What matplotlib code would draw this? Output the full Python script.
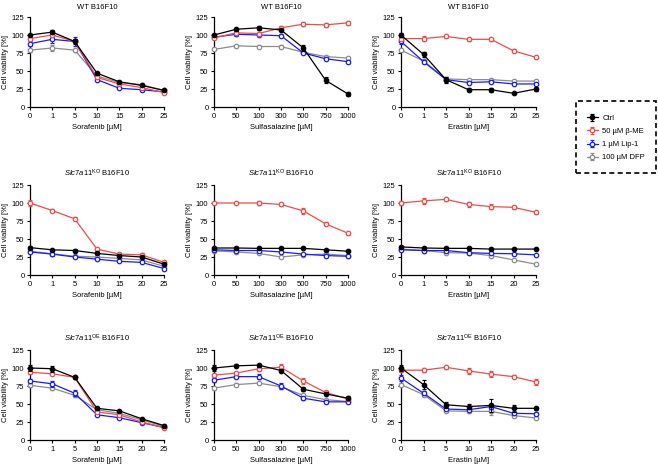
import matplotlib

matplotlib.use("Agg")

import matplotlib.pyplot as plt  # noqa: E402
from matplotlib.patches import Rectangle  # noqa: E402

plt.rcParams["font.family"] = ["Liberation Sans", "DejaVu Sans"]
plt.rcParams["mathtext.fontset"] = "custom"
plt.rcParams["mathtext.rm"] = "Liberation Sans"
plt.rcParams["mathtext.it"] = "Liberation Sans:italic"

# ---------------------------------------------------------------------------
# data
# ---------------------------------------------------------------------------
treatments = ["Ctrl", "50 µM β-ME", "1 µM Lip-1", "100 µM DFP"]
colors = ["#000000", "#f24a4a", "#1a1aff", "#8c8c8c"]

sorafenib_doses = ["0", "1", "5", "10", "15", "20", "25"]
sulfasalazine_doses = ["0", "50", "100", "300", "500", "750", "1000"]
erastin_doses = ["0", "1", "5", "10", "15", "20", "25"]

row_titles = [
    "WT B16F10",
    r"$\mathit{Slc7a11}^{\mathrm{KO}}$ B16F10",
    r"$\mathit{Slc7a11}^{\mathrm{OE}}$ B16F10",
]

# WT
wt_sorafenib = [
    [100, 104, 91, 47, 35, 30, 23],
    [95, 100, 91, 41, 32, 27, 20],
    [88, 94, 91, 38, 26, 24, 21],
    [79, 82, 79, 43, 34, 31, 23],
]
wt_sulfasalazine = [
    [100, 108, 110, 107, 82, 37, 18],
    [96, 103, 102, 110, 115, 114, 117],
    [97, 101, 100, 99, 75, 67, 63],
    [80, 85, 84, 84, 76, 70, 68],
]
wt_erastin = [
    [100, 73, 38, 24, 24, 19, 25],
    [95, 95, 98, 94, 94, 78, 69],
    [91, 63, 38, 34, 35, 32, 32],
    [79, 64, 39, 38, 38, 36, 36],
]
wt_sorafenib_err = [
    [2, 3, 3, 2, 1.5, 1.5, 1],
    [2, 2, 2, 2, 1.5, 1.5, 1],
    [3, 5, 6, 2, 1.5, 1.5, 1],
    [2, 4, 2, 2, 1.5, 1.5, 1],
]
wt_sulfasalazine_err = [
    [2, 2, 3, 2, 4, 4, 3],
    [2, 2, 2, 2, 3, 3, 3],
    [2, 2, 2, 2, 2, 2, 2],
    [1.5, 1.5, 1.5, 1.5, 1.5, 1.5, 1.5],
]
wt_erastin_err = [
    [3, 3, 4, 2, 3, 1.5, 3],
    [2, 3, 2, 2, 2, 2, 1.5],
    [3, 2, 2, 2, 2, 2, 2],
    [2, 2, 2, 1.5, 1.5, 1.5, 1.5],
]

# Slc7a11 KO
ko_sorafenib = [
    [38, 35, 34, 30, 27, 25, 15],
    [100, 89.5, 78, 36, 29, 28, 17.5],
    [32, 29, 25, 22, 19, 17.5, 9],
    [33, 29.5, 26, 25, 23, 21, 12],
]
ko_sulfasalazine = [
    [37.5, 37.5, 37, 37, 37, 35, 33],
    [100, 100, 100, 98, 89, 71, 58],
    [35, 34, 34, 32, 29, 27, 26],
    [33.5, 32, 30, 25, 28, 29, 27],
]
ko_erastin = [
    [39, 37.5, 37, 37, 36, 36, 36],
    [100, 103, 105, 98, 95, 94, 87],
    [35, 34, 34, 31, 30, 29.5, 28],
    [36, 34, 31, 30.5, 27, 21, 15],
]
ko_sorafenib_err = [
    [2, 1.5, 1.5, 1.5, 1.5, 1.5, 1.5],
    [4, 2, 2, 2, 2, 2, 2],
    [2, 2, 2, 1.5, 1.5, 1.5, 1.5],
    [1.5, 1.5, 1.5, 1.5, 1.5, 1.5, 1.5],
]
ko_sulfasalazine_err = [
    [1.5, 1.5, 1.5, 1.5, 1.5, 1.5, 1.5],
    [2, 2, 3, 2, 4, 2, 2],
    [2, 1.5, 1.5, 1.5, 1.5, 1.5, 1.5],
    [1.5, 1.5, 1.5, 1.5, 1.5, 1.5, 1.5],
]
ko_erastin_err = [
    [1.5, 1.5, 1.5, 2, 1.5, 1.5, 1.5],
    [3, 4, 2, 4, 4, 2, 2],
    [1.5, 1.5, 1.5, 1.5, 1.5, 1.5, 1.5],
    [1.5, 1.5, 1.5, 1.5, 1.5, 1.5, 1.5],
]

# Slc7a11 OE
oe_sorafenib = [
    [100, 99, 87, 44, 40.5, 29.5, 20],
    [94, 92, 87, 39, 35, 25, 17],
    [82, 78, 65, 35, 31, 24, 17.5],
    [76, 72, 62, 42, 37, 28, 19],
]
oe_sulfasalazine = [
    [100, 103, 104, 96.5, 70.5, 64, 58],
    [90, 93, 99, 101, 82, 66, 57],
    [83, 88, 88, 75, 58, 53, 53],
    [72, 77, 79, 74, 62, 56, 53.5],
]
oe_erastin = [
    [100, 77, 49, 46.5, 48, 44, 44],
    [97, 97, 101, 96, 91.5, 88, 80.5],
    [86, 65, 43, 42, 46.5, 37, 36.5],
    [77, 63, 40.5, 39.7, 39.7, 34, 30.5],
]
oe_sorafenib_err = [
    [4, 4, 2, 2, 1.5, 1.5, 1.5],
    [2, 2, 2, 2, 1.5, 1.5, 1.5],
    [3, 4, 4, 2, 1.5, 1.5, 1.5],
    [2, 2, 2, 1.5, 1.5, 1.5, 1.5],
]
oe_sulfasalazine_err = [
    [4, 2, 2, 2, 3, 2, 3],
    [2, 2, 3, 5, 4, 2, 2],
    [3, 2, 3, 4, 2, 2, 2],
    [2, 1.5, 1.5, 1.5, 1.5, 1.5, 1.5],
]
oe_erastin_err = [
    [4, 6, 4, 4, 9, 5, 2],
    [2, 3, 2, 4, 4, 2, 4],
    [4, 3, 2, 2, 3, 2, 2],
    [2, 2, 2, 2, 5, 2, 2],
]

panels = [
    [(wt_sorafenib, wt_sorafenib_err, sorafenib_doses, "Sorafenib [µM]"),
     (wt_sulfasalazine, wt_sulfasalazine_err, sulfasalazine_doses, "Sulfasalazine [µM]"),
     (wt_erastin, wt_erastin_err, erastin_doses, "Erastin [µM]")],
    [(ko_sorafenib, ko_sorafenib_err, sorafenib_doses, "Sorafenib [µM]"),
     (ko_sulfasalazine, ko_sulfasalazine_err, sulfasalazine_doses, "Sulfasalazine [µM]"),
     (ko_erastin, ko_erastin_err, erastin_doses, "Erastin [µM]")],
    [(oe_sorafenib, oe_sorafenib_err, sorafenib_doses, "Sorafenib [µM]"),
     (oe_sulfasalazine, oe_sulfasalazine_err, sulfasalazine_doses, "Sulfasalazine [µM]"),
     (oe_erastin, oe_erastin_err, erastin_doses, "Erastin [µM]")],
]

# ---------------------------------------------------------------------------
# layout
# ---------------------------------------------------------------------------
W, H = 658, 465
fig = plt.figure(figsize=(W / 100, H / 100), dpi=100)

col_px = [(30, 164), (214, 348), (401, 536)]
row_px = [(17, 107), (185, 275), (350, 440)]

handles = []
for r, row in enumerate(panels):
    for c, (series, errs, doses, xlabel) in enumerate(row):
        x0, x1 = col_px[c]
        y0, y1 = row_px[r]
        ax = fig.add_axes([x0 / W, 1 - y1 / H, (x1 - x0) / W, (y1 - y0) / H])
        xs = list(range(len(doses)))
        for i, (vals, err) in enumerate(zip(series, errs)):
            filled = i == 0
            h = ax.errorbar(
                xs, vals, yerr=err, color=colors[i], lw=0.9,
                marker="o", ms=3.2, mew=0.9,
                mfc=colors[i] if filled else "white", mec=colors[i],
                capsize=1.5, elinewidth=0.7, capthick=0.7,
                clip_on=False, zorder=3 + (3 - i), label=treatments[i],
            )
            if r == 0 and c == 0:
                handles.append(h)
        ax.set_xlim(0, len(doses) - 1)
        ax.set_ylim(0, 125)
        ax.set_yticks([0, 25, 50, 75, 100, 125])
        ax.set_xticks(xs)
        ax.set_xticklabels(doses)
        ax.tick_params(labelsize=5.5, length=2.5, width=0.8, pad=1.5)
        for s in ("top", "right"):
            ax.spines[s].set_visible(False)
        for s in ("left", "bottom"):
            ax.spines[s].set_linewidth(0.9)
        ax.set_ylabel("Cell viability [%]", fontsize=5.5, labelpad=2)
        ax.set_xlabel(xlabel, fontsize=5.5, labelpad=3)
        ax.set_title(row_titles[r], fontsize=5.5, pad=6)

# legend inside a dashed box
fig.patches.append(Rectangle(
    (576 / W, 1 - 173 / H), 80 / W, 72 / H, transform=fig.transFigure,
    fill=False, edgecolor="black", linewidth=1.2, linestyle=(0, (3, 2)),
))
fig.legend(
    handles, treatments, loc="center",
    bbox_to_anchor=(616 / W, 1 - 138 / H), fontsize=5.5,
    frameon=False, borderpad=0.2, handlelength=1.4,
    handletextpad=0.6, labelspacing=0.75,
)

fig.savefig("out.png", dpi=100)
